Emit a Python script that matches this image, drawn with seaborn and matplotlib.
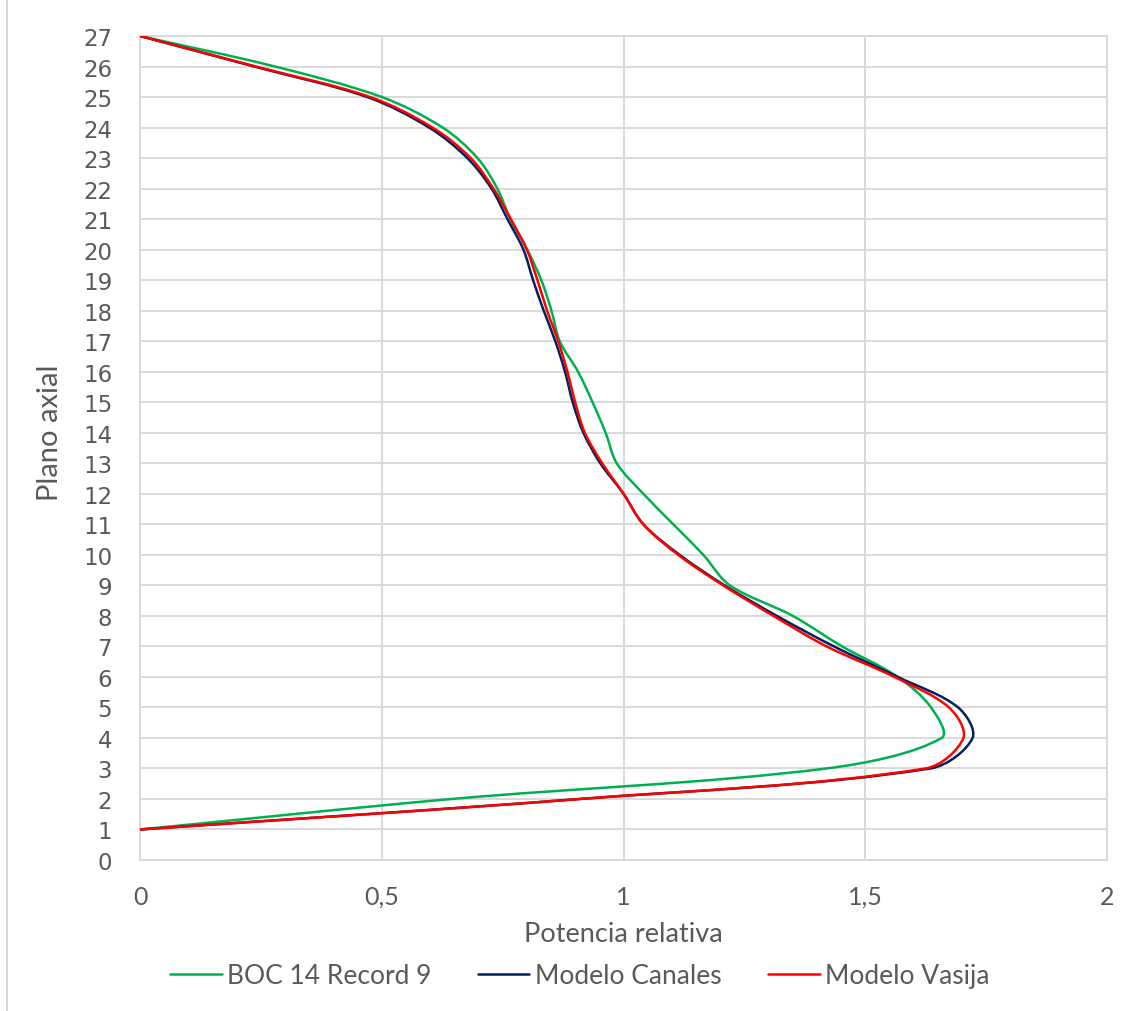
import numpy as np
import pandas as pd
import matplotlib
matplotlib.use("Agg")
import matplotlib.pyplot as plt
from matplotlib.path import Path
from matplotlib.patches import PathPatch
from matplotlib.lines import Line2D
import seaborn as sns

# Axial power profile per plane
planos = list(range(1, 28))
boc14 = [0.0, 0.645, 1.42, 1.658, 1.636, 1.567, 1.452, 1.35, 1.22, 1.165,
         1.103, 1.041, 0.986, 0.963, 0.936, 0.906, 0.868, 0.851, 0.830, 0.801,
         0.766, 0.739, 0.698, 0.626, 0.500, 0.279, 0.0]
canales = [0.0, 0.91, 1.635, 1.722, 1.692, 1.567, 1.435, 1.317, 1.209, 1.116,
           1.041, 1.0, 0.952, 0.917, 0.895, 0.879, 0.859, 0.835, 0.813, 0.793,
           0.760, 0.727, 0.677, 0.598, 0.470, 0.236, 0.0]
vasija = [0.0, 0.91, 1.625, 1.703, 1.673, 1.56, 1.42, 1.31, 1.206, 1.113,
          1.041, 1.0, 0.956, 0.92, 0.90, 0.884, 0.865, 0.842, 0.822, 0.80,
          0.767, 0.731, 0.684, 0.605, 0.476, 0.24, 0.0]

series_names = ["BOC 14 Record 9", "Modelo Canales", "Modelo Vasija"]
series_colors = ["#00B050", "#002060", "#FF0000"]
x_ticks = [0, 0.5, 1, 1.5, 2]
x_tick_labels = ["0", "0,5", "1", "1,5", "2"]
y_ticks = list(range(0, 28))

df = pd.concat(
    [pd.DataFrame({"Potencia relativa": vals, "Plano axial": planos, "Serie": name})
     for name, vals in zip(series_names, [boc14, canales, vasija])],
    ignore_index=True,
)

sns.set_theme(style="whitegrid")
plt.rcParams["font.family"] = ["Lato", "DejaVu Sans"]

GRID = "#d9d9d9"
TEXT = "#595959"
LW = 1.8

W, H = 1135, 1012
fig = plt.figure(figsize=(W / 100, H / 100), dpi=100)
ax = fig.add_axes([140 / W, 1 - 861 / H, (1107 - 140) / W, (861 - 37) / H])

ax.set_xlim(0, 2)
ax.set_ylim(0, 27)

sns.lineplot(
    data=df, x="Potencia relativa", y="Plano axial", hue="Serie",
    palette=dict(zip(series_names, series_colors)), hue_order=series_names,
    sort=False, estimator=None, orient="y", linewidth=LW, legend=False, ax=ax,
)
ax.set_xlim(0, 2)
ax.set_ylim(0, 27)


def smooth_path(xy, to_disp):
    """Cubic Bezier path through the points, tangents weighted by on-screen
    segment length (spreadsheet-style smoothed line)."""
    pts = np.asarray(xy, float)
    disp = to_disp(pts)
    n = len(pts)
    seg = np.hypot(*np.diff(disp, axis=0).T)
    verts = [pts[0]]
    codes = [Path.MOVETO]
    for i in range(n - 1):
        i0, i3 = max(i - 1, 0), min(i + 2, n - 1)
        d01 = seg[i - 1] if i > 0 else 0.0
        d12 = seg[i]
        d23 = seg[i + 1] if i + 1 < n - 1 else 0.0
        c1 = pts[i] + (pts[i + 1] - pts[i0]) * d12 / (d01 + d12) / 3.0
        c2 = pts[i + 1] - (pts[i3] - pts[i]) * d12 / (d12 + d23) / 3.0
        verts += [c1, c2, pts[i + 1]]
        codes += [Path.CURVE4] * 3
    return Path(verts, codes)


for line in list(ax.get_lines()):
    ax.add_patch(PathPatch(
        smooth_path(line.get_xydata(), ax.transData.transform),
        facecolor="none", edgecolor=line.get_color(), lw=line.get_linewidth(),
        capstyle="round", joinstyle="round", zorder=3,
    ))
    line.set_visible(False)

ax.set_xticks(x_ticks)
ax.set_xticklabels(x_tick_labels)
ax.set_yticks(y_ticks)
ax.set_yticklabels([str(v) for v in y_ticks], family=["DejaVu Sans"])
ax.grid(True, color=GRID, linewidth=1.4)
ax.set_facecolor("white")
for sp in ax.spines.values():
    sp.set_color(GRID)
    sp.set_linewidth(1.4)
ax.tick_params(axis="both", length=0, labelcolor=TEXT)
ax.tick_params(axis="x", pad=18, labelsize=18)
ax.tick_params(axis="y", pad=20, labelsize=16.5)

ax.set_xlabel("Potencia relativa", fontsize=19.5, color=TEXT)
ax.xaxis.set_label_coords(0.5, (861 - 922) / 824)
ax.set_ylabel("Plano axial", fontsize=21, color=TEXT)
ax.yaxis.set_label_coords((63 - 140) / 967, (861 - 433) / 824)

handles = [Line2D([], [], color=c, lw=LW) for c in series_colors]
fig.legend(
    handles, series_names, loc="center", bbox_to_anchor=(580 / W, 1 - 977 / H),
    ncol=3, frameon=False, fontsize=19, labelcolor=TEXT,
    handlelength=1.95, handletextpad=0.22, columnspacing=1.75,
)

fig.add_artist(Line2D([7 / W, 7 / W], [0, 1], transform=fig.transFigure,
                      color=GRID, lw=1.4))

fig.savefig("out.png", dpi=100, facecolor="white")
